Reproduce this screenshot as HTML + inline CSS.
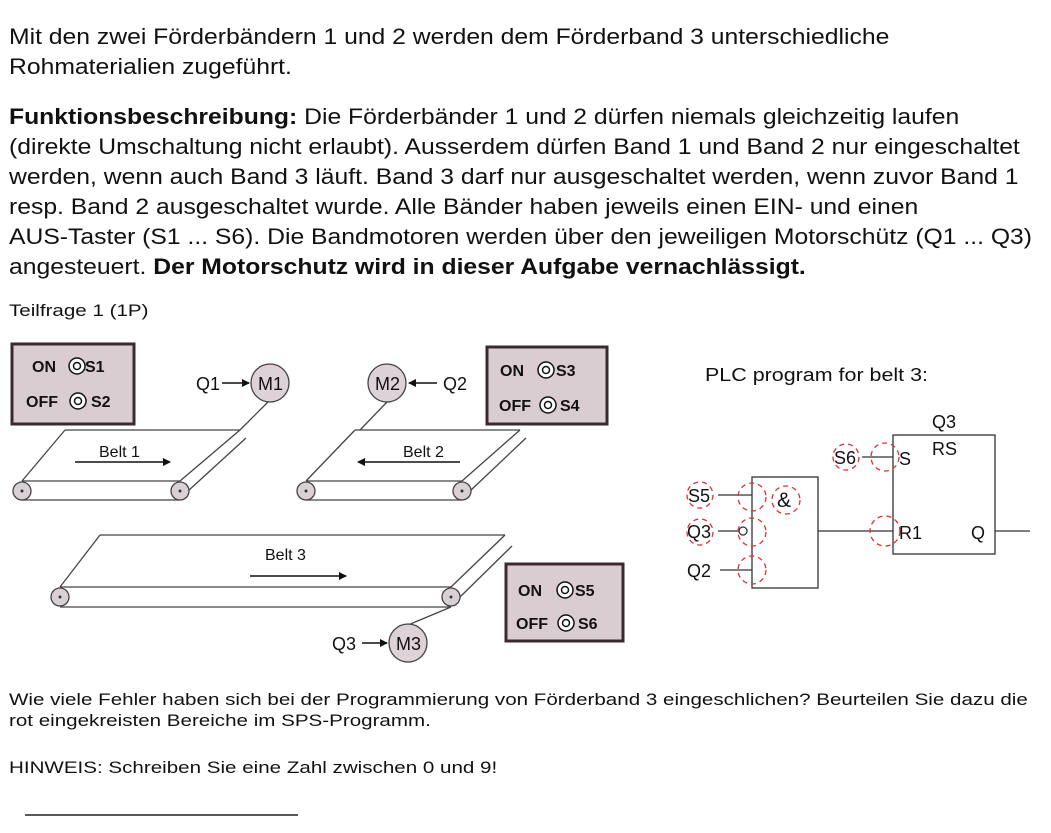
<!DOCTYPE html>
<html><head><meta charset="utf-8"><style>
body{margin:0;background:#fff;width:1051px;height:833px;overflow:hidden;font-family:"Liberation Sans",sans-serif;color:#111}
.t{position:absolute;left:9px;font-size:22px;white-space:nowrap;transform:scaleX(1.123);transform-origin:0 0}
.s{position:absolute;left:9px;font-size:17px;white-space:nowrap;transform:scaleX(1.21);transform-origin:0 0}
svg{position:absolute;left:0;top:0}
</style></head><body>
<div class="t" style="top:24px">Mit den zwei Förderbändern 1 und 2 werden dem Förderband 3 unterschiedliche</div>
<div class="t" style="top:54px">Rohmaterialien zugeführt.</div>
<div class="t" style="top:104px"><b>Funktionsbeschreibung:</b> Die Förderbänder 1 und 2 dürfen niemals gleichzeitig laufen</div>
<div class="t" style="top:134px">(direkte Umschaltung nicht erlaubt). Ausserdem dürfen Band 1 und Band 2 nur eingeschaltet</div>
<div class="t" style="top:164px">werden, wenn auch Band 3 läuft. Band 3 darf nur ausgeschaltet werden, wenn zuvor Band 1</div>
<div class="t" style="top:194px">resp. Band 2 ausgeschaltet wurde. Alle Bänder haben jeweils einen EIN- und einen</div>
<div class="t" style="top:224px">AUS-Taster (S1 ... S6). Die Bandmotoren werden über den jeweiligen Motorschütz (Q1 ... Q3)</div>
<div class="t" style="top:254px">angesteuert. <b>Der Motorschutz wird in dieser Aufgabe vernachlässigt.</b></div>
<div class="s" style="top:301px">Teilfrage 1 (1P)</div>
<div class="s" style="top:690px">Wie viele Fehler haben sich bei der Programmierung von Förderband 3 eingeschlichen? Beurteilen Sie dazu die</div>
<div class="s" style="top:711px">rot eingekreisten Bereiche im SPS-Programm.</div>
<div class="s" style="top:758px">HINWEIS: Schreiben Sie eine Zahl zwischen 0 und 9!</div>
<svg width="1051" height="833" font-family="Liberation Sans, sans-serif">
<defs><marker id="a" markerWidth="8" markerHeight="8" refX="7" refY="4" orient="auto" markerUnits="userSpaceOnUse"><path d="M0,0 L8,4 L0,8z" fill="#111"/></marker></defs>
<g stroke="#444" stroke-width="1.3" fill="none">
<path d="M65,430 L240,430 M22,481 L65,430 M180,481 L240,430 M22,481 L180,481 M22,500 L180,500 M188,491 L246,438 M268,402 L240,430"/>
<path d="M355,430 L520,430 M306,481 L355,430 M462,481 L520,430 M306,481 L462,481 M306,500 L462,500 M470,491 L526,438 M387,402 L360,430"/>
<path d="M100,535 L505,535 M60,587 L100,535 M451,587 L505,535 M60,587 L451,587 M60,607 L451,607 M459,598 L512,546 M451,607 L408,625"/>
</g>
<g fill="#d8d0d4" stroke="#444" stroke-width="1.3">
<circle cx="22" cy="491" r="9"/><circle cx="180" cy="491" r="9"/>
<circle cx="306" cy="491" r="9"/><circle cx="462" cy="491" r="9"/>
<circle cx="60" cy="597" r="9"/><circle cx="451" cy="597" r="9"/>
</g>
<g fill="#333"><circle cx="22" cy="491" r="1.5"/><circle cx="180" cy="491" r="1.5"/><circle cx="306" cy="491" r="1.5"/><circle cx="462" cy="491" r="1.5"/><circle cx="60" cy="597" r="1.5"/><circle cx="451" cy="597" r="1.5"/></g>
<g stroke="#111" stroke-width="1.5"><line x1="75" y1="462" x2="170" y2="462" marker-end="url(#a)"/><line x1="460" y1="462" x2="358" y2="462" marker-end="url(#a)"/><line x1="250" y1="576" x2="346" y2="576" marker-end="url(#a)"/>
<line x1="222" y1="383" x2="249" y2="383" marker-end="url(#a)"/><line x1="437" y1="383" x2="409" y2="383" marker-end="url(#a)"/><line x1="362" y1="643" x2="387" y2="643" marker-end="url(#a)"/></g>
<g font-size="16" fill="#111"><text x="99" y="457">Belt 1</text><text x="403" y="457">Belt 2</text><text x="265" y="560">Belt 3</text></g>
<g fill="#ddd2d8" stroke="#444" stroke-width="1.3"><circle cx="270" cy="383" r="19"/><circle cx="387" cy="383" r="19"/><circle cx="408" cy="643" r="19"/></g>
<g font-size="18" fill="#111"><text x="258" y="390">M1</text><text x="375" y="390">M2</text><text x="396" y="650">M3</text>
<text x="196" y="390">Q1</text><text x="443" y="390">Q2</text><text x="332" y="650">Q3</text></g>
<g fill="#d9cdd2" stroke="#3a2a30" stroke-width="3"><rect x="12" y="344" width="122" height="80"/><rect x="487" y="347" width="120" height="77"/><rect x="506" y="564" width="117" height="77"/></g>
<g font-size="16" font-weight="bold" fill="#111">
<text x="32" y="372">ON</text><text x="85" y="372">S1</text><text x="26" y="407">OFF</text><text x="91" y="407">S2</text>
<text x="500" y="376">ON</text><text x="556" y="376">S3</text><text x="499" y="411">OFF</text><text x="560" y="411">S4</text>
<text x="518" y="596">ON</text><text x="575" y="596">S5</text><text x="516" y="629">OFF</text><text x="578" y="629">S6</text></g>
<g fill="#fff" stroke="#111" stroke-width="1.5">
<circle cx="77" cy="366" r="8"/><circle cx="77" cy="366" r="3.5"/><circle cx="78" cy="401" r="8"/><circle cx="78" cy="401" r="3.5"/>
<circle cx="546" cy="370" r="8"/><circle cx="546" cy="370" r="3.5"/><circle cx="548" cy="405" r="8"/><circle cx="548" cy="405" r="3.5"/>
<circle cx="565" cy="590" r="8"/><circle cx="565" cy="590" r="3.5"/><circle cx="566" cy="623" r="8"/><circle cx="566" cy="623" r="3.5"/></g>
<text x="705" y="381" font-size="18" fill="#111" textLength="223" lengthAdjust="spacingAndGlyphs">PLC program for belt 3:</text>
<g stroke="#333" stroke-width="1.3" fill="none">
<rect x="752" y="477" width="66" height="111"/><rect x="893" y="435" width="102" height="119"/>
<path d="M718,495 L752,495 M718,531 L739,531 M720,570 L752,570 M818,531 L893,531 M862,457 L893,457 M995,531 L1030,531"/>
<circle cx="743" cy="531" r="4" fill="#fff"/></g>
<g font-size="18" fill="#111"><text x="932" y="428">Q3</text><text x="932" y="455">RS</text><text x="899" y="465">S</text><text x="899" y="539">R1</text><text x="971" y="539">Q</text>
<text x="777" y="507" font-size="21">&amp;</text><text x="834" y="464">S6</text><text x="688" y="502">S5</text><text x="687" y="538">Q3</text><text x="687" y="577">Q2</text></g>
<g fill="none" stroke="#e03030" stroke-width="1.3" stroke-dasharray="5,4">
<circle cx="846" cy="457" r="13"/><circle cx="885" cy="457" r="14"/><circle cx="700" cy="495" r="13"/><circle cx="752" cy="497" r="14"/>
<circle cx="786" cy="500" r="14"/><circle cx="700" cy="532" r="13"/><circle cx="752" cy="532" r="14"/><circle cx="752" cy="570" r="14"/><circle cx="885" cy="531" r="15"/></g>
<line x1="25" y1="815" x2="298" y2="815" stroke="#222" stroke-width="1.5"/>
</svg>
</body></html>
